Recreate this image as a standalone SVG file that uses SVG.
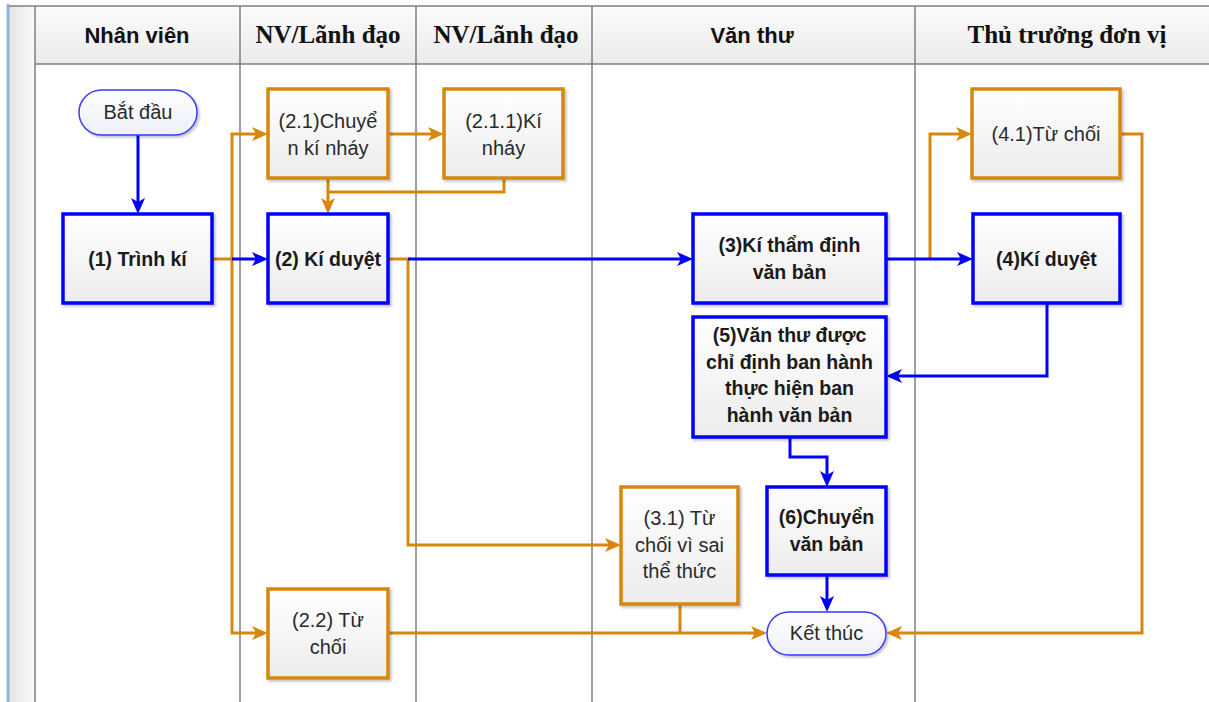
<svg xmlns="http://www.w3.org/2000/svg" width="1209" height="702" viewBox="0 0 1209 702">
<defs>
<linearGradient id="hdr" x1="0" y1="0" x2="0" y2="1"><stop offset="0" stop-color="#fbfbfb"/><stop offset="1" stop-color="#ebebeb"/></linearGradient>
<linearGradient id="side" x1="0" y1="0" x2="1" y2="0"><stop offset="0" stop-color="#e4e4e4"/><stop offset="1" stop-color="#fbfbfb"/></linearGradient>
<linearGradient id="box" x1="0" y1="0" x2="0" y2="1"><stop offset="0" stop-color="#ffffff"/><stop offset="1" stop-color="#ececec"/></linearGradient>
<linearGradient id="pill" x1="0" y1="0" x2="0" y2="1"><stop offset="0" stop-color="#ffffff"/><stop offset="1" stop-color="#eef0f8"/></linearGradient>
<filter id="sh" x="-10%" y="-10%" width="125%" height="125%"><feDropShadow dx="2" dy="2" stdDeviation="1.2" flood-color="#000" flood-opacity="0.22"/></filter>
<marker id="arrB" markerUnits="userSpaceOnUse" markerWidth="16" markerHeight="14" refX="8" refY="7" orient="auto"><path d="M0,0 L16,7 L0,14 L4,7 z" fill="#0000ff"/></marker>
<marker id="arrO" markerUnits="userSpaceOnUse" markerWidth="16" markerHeight="14" refX="8" refY="7" orient="auto"><path d="M0,0 L16,7 L0,14 L4,7 z" fill="#d9860c"/></marker>
</defs>
<style>
.lane{stroke:#7f7f7f;stroke-width:1.5;fill:none}
.ht{font-family:"Liberation Sans",Arial,sans-serif;font-weight:bold;font-size:22px;fill:#111;text-anchor:middle}
.hs{font-family:"Liberation Serif","Times New Roman",serif;font-weight:bold;font-size:25px;fill:#111;text-anchor:middle}
.bb{fill:url(#box);stroke:#0000ff;stroke-width:3.5;filter:url(#sh)}
.ob{fill:url(#box);stroke:#d9860c;stroke-width:3.5;filter:url(#sh)}
.pl{fill:url(#pill);stroke:#3a3aff;stroke-width:1.5;filter:url(#sh)}
.tb{font-family:"Liberation Sans",Arial,sans-serif;font-weight:bold;font-size:19.5px;fill:#1a1a1a;text-anchor:middle}
.tr{font-family:"Liberation Sans",Arial,sans-serif;font-size:20px;fill:#2a2a2a;text-anchor:middle}
.cb{fill:none;stroke:#0000ff;stroke-width:3;marker-end:url(#arrB)}
.co{fill:none;stroke:#d9860c;stroke-width:3;marker-end:url(#arrO)}
.cn{fill:none;stroke:#d9860c;stroke-width:3}
</style>
<rect x="0" y="0" width="1209" height="702" fill="#ffffff"/>
<g id="lanes">
<rect x="9" y="6" width="26" height="696" fill="url(#side)"/>
<rect x="35" y="6" width="1174" height="58" fill="url(#hdr)"/>
<line x1="8" y1="4" x2="8" y2="702" stroke="#8db4e2" stroke-width="3"/>
<line x1="9" y1="6" x2="1209" y2="6" class="lane"/>
<line x1="35" y1="64" x2="1209" y2="64" class="lane"/>
<line x1="35" y1="6" x2="35" y2="702" class="lane"/>
<line x1="240" y1="6" x2="240" y2="702" class="lane"/>
<line x1="416" y1="6" x2="416" y2="702" class="lane"/>
<line x1="592" y1="6" x2="592" y2="702" class="lane"/>
<line x1="915" y1="6" x2="915" y2="702" class="lane"/>
<text class="ht" x="137" y="43">Nhân viên</text>
<text class="hs" x="328" y="43">NV/Lãnh đạo</text>
<text class="hs" x="506" y="43">NV/Lãnh đạo</text>
<text class="ht" x="752" y="43">Văn thư</text>
<text class="hs" x="1067" y="43">Thủ trưởng đơn vị</text>
</g>
<g id="connectors">
<path class="co" d="M212 259 H232 V134 H260"/>
<path class="co" d="M232 259 V633 H260"/>
<path class="co" d="M388 134 H436"/>
<path class="co" d="M504 178 V192 H328 V206"/>
<path class="cn" d="M328 178 V192"/>
<path class="co" d="M388 259 H408 V545 H613"/>
<path class="co" d="M930 259 V134 H964"/>
<path class="co" d="M1120 134 H1142 V633 H894"/>
<path class="co" d="M388 633 H759"/>
<path class="cn" d="M680 604 V633"/>
<path class="cb" d="M138 135 V206"/>
<path class="cb" d="M232 259 H260"/>
<path class="cb" d="M408 259 H685"/>
<path class="cb" d="M886 259 H965"/>
<path class="cb" d="M1047 303 V376 H894"/>
<path class="cb" d="M790 437 V457 H827 V479"/>
<path class="cb" d="M827 575 V604"/>
</g>
<g id="start"><rect class="pl" x="79" y="90" width="118" height="45" rx="22.5"/><text class="tr" x="138" y="119">Bắt đầu</text></g>
<g id="n1"><rect class="bb" x="63" y="214" width="149" height="89"/><text class="tb" x="137.5" y="265.5">(1) Trình kí</text></g>
<g id="n2"><rect class="bb" x="268" y="214" width="120" height="89"/><text class="tb" x="328" y="265.5">(2) Kí duyệt</text></g>
<g id="n21"><rect class="ob" x="268" y="89" width="120" height="89"/><text class="tr" x="328" y="127.5">(2.1)Chuyể</text><text class="tr" x="328" y="154.5">n kí nháy</text></g>
<g id="n211"><rect class="ob" x="444" y="89" width="119" height="89"/><text class="tr" x="503.5" y="127.5">(2.1.1)Kí</text><text class="tr" x="503.5" y="154.5">nháy</text></g>
<g id="n22"><rect class="ob" x="268" y="589" width="120" height="89"/><text class="tr" x="328" y="627">(2.2) Từ</text><text class="tr" x="328" y="654">chối</text></g>
<g id="n3"><rect class="bb" x="693" y="214" width="193" height="89"/><text class="tb" x="789.5" y="252">(3)Kí thẩm định</text><text class="tb" x="789.5" y="279">văn bản</text></g>
<g id="n31"><rect class="ob" x="621" y="487" width="117" height="117"/><text class="tr" x="679.5" y="525">(3.1) Từ</text><text class="tr" x="679.5" y="551.7">chối vì sai</text><text class="tr" x="679.5" y="578.4">thể thức</text></g>
<g id="n4"><rect class="bb" x="973" y="214" width="147" height="89"/><text class="tb" x="1046.5" y="265.5">(4)Kí duyệt</text></g>
<g id="n41"><rect class="ob" x="972" y="89" width="148" height="89"/><text class="tr" x="1046" y="141">(4.1)Từ chối</text></g>
<g id="n5"><rect class="bb" x="693" y="317" width="193" height="120"/><text class="tb" x="789.5" y="342">(5)Văn thư được</text><text class="tb" x="789.5" y="368.7">chỉ định ban hành</text><text class="tb" x="789.5" y="395.4">thực hiện ban</text><text class="tb" x="789.5" y="422">hành văn bản</text></g>
<g id="n6"><rect class="bb" x="767" y="487" width="119" height="88"/><text class="tb" x="826.5" y="523.5">(6)Chuyển</text><text class="tb" x="826.5" y="550.5">văn bản</text></g>
<g id="end"><rect class="pl" x="767" y="612" width="119" height="43" rx="21.5"/><text class="tr" x="826.5" y="640">Kết thúc</text></g>
</svg>
